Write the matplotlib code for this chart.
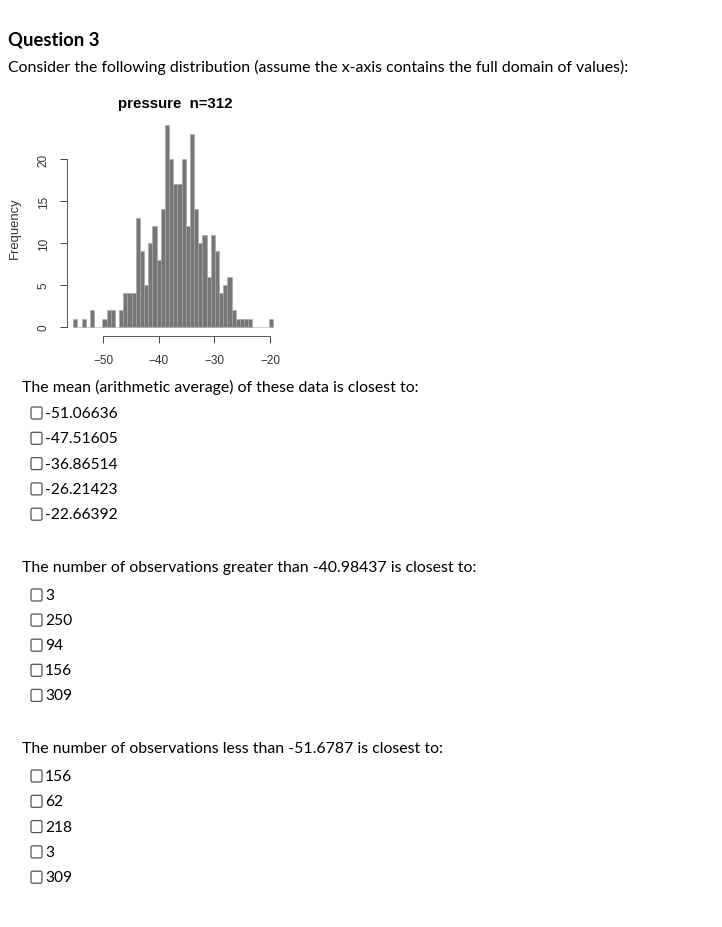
import numpy as np
import matplotlib
matplotlib.use('Agg')
import matplotlib.pyplot as plt
from matplotlib.patches import FancyBboxPatch

# histogram counts (bin width ~0.75)
bin_start = -55.4
bin_width = 0.75
counts = [1, 0, 1, 0, 2, 0, 0, 1, 2, 2, 0, 2, 4, 4, 4, 13, 9, 5, 10, 12, 8, 14,
          24, 20, 17, 17, 20, 12, 23, 14, 10, 11, 6, 11, 9, 4, 5, 6, 2, 1, 1, 1, 1,
          0, 0, 0, 0, 1]
x_ticks = [-50, -40, -30, -20]
y_ticks = [0, 5, 10, 15, 20]

q1_text = "The mean (arithmetic average) of these data is closest to:"
q1_opts = ["-51.06636", "-47.51605", "-36.86514", "-26.21423", "-22.66392"]
q2_text = "The number of observations greater than -40.98437 is closest to:"
q2_opts = ["3", "250", "94", "156", "309"]
q3_text = "The number of observations less than -51.6787 is closest to:"
q3_opts = ["156", "62", "218", "3", "309"]

W, H = 722, 928
plt.rcParams['font.family'] = ['Lato', 'DejaVu Sans']
fig = plt.figure(figsize=(W / 100, H / 100), dpi=100)
r_font = ['Liberation Sans', 'DejaVu Sans']


def fx(px):
    return px / W


def fy(py):
    return 1 - py / H


# header
fig.text(fx(8), fy(40), "Question 3", fontsize=13.3, fontweight='bold', va='center')
fig.text(fx(8), fy(67), "Consider the following distribution (assume the x-axis contains "
         "the full domain of values):", fontsize=11.4, va='center')

# histogram axes (pixel box 66.5..285 x 115..330)
ax = fig.add_axes([fx(66.5), fy(330), fx(285 - 66.5), (330 - 115) / H])
edges = bin_start + bin_width * np.arange(len(counts))
ax.bar(edges, counts, width=bin_width, align='edge', color='#767676',
       edgecolor='#a8a8a8', linewidth=0.4)
ax.set_xlim(-56.62, -17.30)
ax.set_ylim(-0.24, 25.36)
for s in ['top', 'right']:
    ax.spines[s].set_visible(False)
ax.spines['left'].set_bounds(0, 20)
ax.spines['bottom'].set_bounds(-50, -20)
ax.spines['bottom'].set_position(('outward', 5))
for s in ['left', 'bottom']:
    ax.spines[s].set_color('#555555')
    ax.spines[s].set_linewidth(0.7)
ax.set_xticks(x_ticks)
ax.set_yticks(y_ticks)
ax.set_yticklabels([str(v) for v in y_ticks], rotation=90, va='center')
ax.tick_params(axis='both', labelsize=8.5, colors='#444444', length=5, width=0.7,
               labelcolor='#333333')
ax.tick_params(axis='x', pad=8)
ax.tick_params(axis='y', pad=7)
ax.set_facecolor('none')
for lab in ax.get_xticklabels() + ax.get_yticklabels():
    lab.set_family(r_font)
fig.text(fx(175), fy(104), "pressure  n=312", fontsize=10.8, fontweight='bold',
         ha='center', va='center', family=r_font)
fig.text(fx(15), fy(228), "Frequency", fontsize=9.4, rotation=90, ha='center',
         va='center', color='#333333', family=r_font)


def question(text, opts, y_text, y_first, step=25.3):
    fig.text(fx(22), fy(y_text), text, fontsize=11.4, va='center')
    for i, o in enumerate(opts):
        yy = y_first + i * step
        box = FancyBboxPatch((fx(31), fy(yy + 6)), fx(11), 12 / H,
                             boxstyle='round,pad=0,rounding_size=0.002',
                             transform=fig.transFigure, facecolor='white',
                             edgecolor='#555555', linewidth=0.9)
        fig.patches.append(box)
        fig.text(fx(45), fy(yy), o, fontsize=11.2, va='center')


question(q1_text, q1_opts, 387, 414)
question(q2_text, q2_opts, 568, 596, step=25.1)
question(q3_text, q3_opts, 749, 777)

fig.savefig('out.png', dpi=100)
